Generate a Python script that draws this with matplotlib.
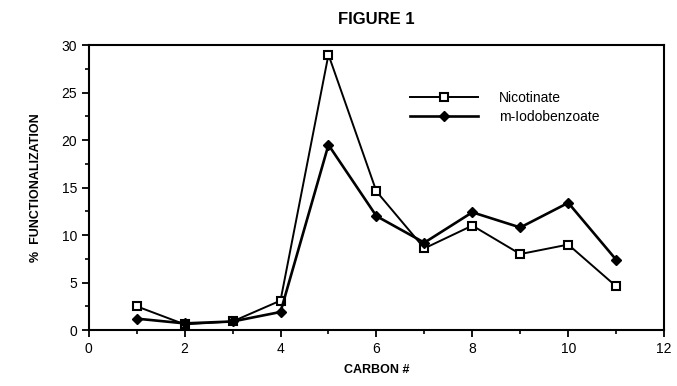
import matplotlib
matplotlib.use("Agg")
import matplotlib.pyplot as plt
from matplotlib.ticker import MultipleLocator

plt.rcParams['font.family'] = ['Liberation Sans', 'DejaVu Sans']

carbon = [1, 2, 3, 4, 5, 6, 7, 8, 9, 10, 11]
nicotinate = [2.5, 0.6, 0.9, 3.1, 29.0, 14.6, 8.6, 11.0, 8.0, 9.0, 4.6]
iodobenzoate = [1.2, 0.7, 0.9, 1.9, 19.5, 12.0, 9.2, 12.4, 10.8, 13.4, 7.4]

fig = plt.figure(figsize=(6.77, 3.86), dpi=100)
ax = fig.add_axes([0.131, 0.145, 0.85, 0.738])

ax.plot(carbon, nicotinate, color='black', lw=1.4, marker='s', ms=5.5,
        mfc='white', mec='black', mew=1.5, label='Nicotinate')
ax.plot(carbon, iodobenzoate, color='black', lw=1.9, marker='D', ms=5,
        mfc='black', mec='black', label='m-Iodobenzoate')

ax.set_xlim(0, 12)
ax.set_ylim(0, 30)
ax.xaxis.set_major_locator(MultipleLocator(2))
ax.xaxis.set_minor_locator(MultipleLocator(1))
ax.yaxis.set_major_locator(MultipleLocator(5))
ax.yaxis.set_minor_locator(MultipleLocator(2.5))
ax.tick_params(which='major', direction='out', length=5, width=1.3, labelsize=10)
ax.tick_params(which='minor', direction='out', length=3, width=1.2)
for s in ax.spines.values():
    s.set_linewidth(1.5)

ax.set_xlabel('CARBON #', fontsize=9, fontweight='bold', labelpad=6)
ax.set_ylabel('%  FUNCTIONALIZATION', fontsize=9, fontweight='bold', labelpad=14)
ax.set_title('FIGURE 1', fontsize=12, fontweight='bold', pad=15)

ax.legend(loc='upper left', bbox_to_anchor=(0.558, 0.84), frameon=False,
          borderaxespad=0, borderpad=0,
          fontsize=10, handlelength=4.9, handletextpad=1.5, labelspacing=0.35)

fig.savefig('out.png', dpi=100)
